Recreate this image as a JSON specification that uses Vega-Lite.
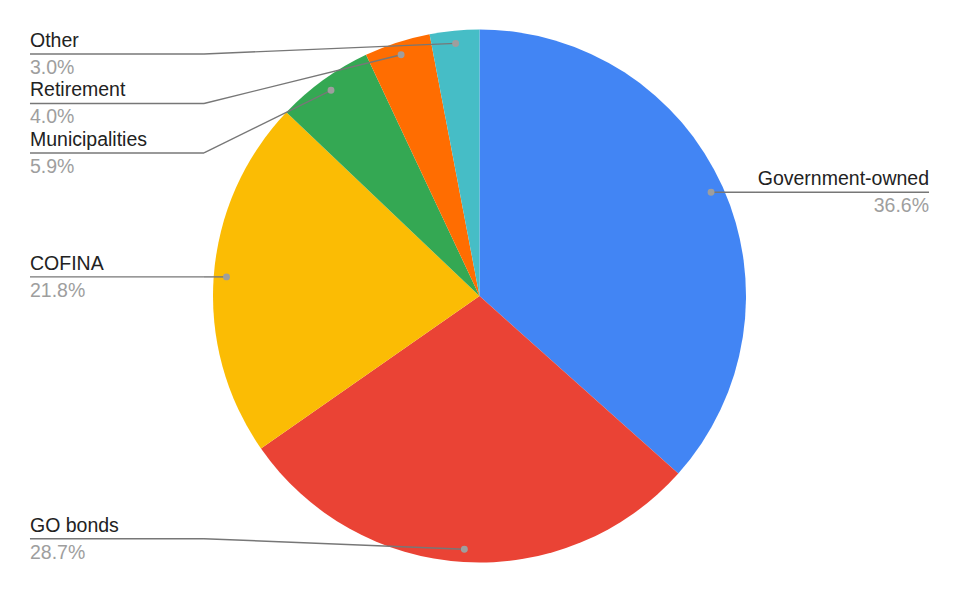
{
  "$schema": "https://vega.github.io/schema/vega-lite/v6.json",
  "width": 960,
  "height": 594,
  "autosize": {"type": "fit", "contains": "padding"},
  "padding": {"left": 0, "top": 0, "right": 1, "bottom": 2},
  "background": "white",
  "config": {"view": {"stroke": null}},
  "data": {
    "values": [
      {"idx": 0, "category": "Government-owned", "value": 36.6},
      {"idx": 1, "category": "GO bonds", "value": 28.7},
      {"idx": 2, "category": "COFINA", "value": 21.8},
      {"idx": 3, "category": "Municipalities", "value": 5.9},
      {"idx": 4, "category": "Retirement", "value": 4.0},
      {"idx": 5, "category": "Other", "value": 3.0}
    ]
  },
  "transform": [
    {"joinaggregate": [{"op": "sum", "field": "value", "as": "total"}]},
    {"window": [{"op": "sum", "field": "value", "as": "cum"}], "sort": [{"field": "idx", "order": "ascending"}], "frame": [null, 0]},
    {"calculate": "(datum.cum - datum.value / 2) / datum.total * 2 * PI", "as": "mid"},
    {"calculate": "0.952 * sin(datum.mid)", "as": "dx"},
    {"calculate": "0.952 * cos(datum.mid)", "as": "dy"},
    {"calculate": "sin(datum.mid) >= 0 ? 'right' : 'left'", "as": "side"},
    {"window": [{"op": "row_number", "as": "rank"}], "groupby": ["side"], "sort": [{"field": "dy", "order": "descending"}]},
    {"joinaggregate": [{"op": "count", "as": "n"}], "groupby": ["side"]},
    {"calculate": "max(min(datum.dy, 0.9081 - (datum.rank - 1) * 0.1857), -0.9107 + (datum.n - datum.rank) * 0.1857)", "as": "ly"},
    {"calculate": "datum.side == 'right' ? 1.0338 : -1.0338", "as": "ex"},
    {"calculate": "datum.side == 'right' ? 1.6867 : -1.6867", "as": "lx"},
    {"calculate": "format(datum.value, '.1f') + '%'", "as": "pct"}
  ],
  "layer": [
    {
      "mark": {"type": "arc", "outerRadius": 266.5},
      "encoding": {
        "theta": {"field": "value", "type": "quantitative", "stack": true},
        "order": {"field": "idx", "type": "quantitative"},
        "color": {
          "field": "category",
          "type": "nominal",
          "scale": {
            "domain": ["Government-owned", "GO bonds", "COFINA", "Municipalities", "Retirement", "Other"],
            "range": ["#4285F4", "#EA4335", "#FBBC04", "#34A853", "#FF6D01", "#46BDC6"]
          },
          "legend": null
        }
      }
    },
    {
      "mark": {"type": "rule", "color": "#777777", "strokeWidth": 1.4},
      "encoding": {
        "x": {"field": "dx", "type": "quantitative", "scale": {"domain": [-1.7992, 1.7992], "nice": false, "zero": false}, "axis": null},
        "y": {"field": "dy", "type": "quantitative", "scale": {"domain": [-1.1107, 1.1107], "nice": false, "zero": false}, "axis": null},
        "x2": {"field": "ex"},
        "y2": {"field": "ly"}
      }
    },
    {
      "mark": {"type": "rule", "color": "#777777", "strokeWidth": 1.4},
      "encoding": {
        "x": {"field": "ex", "type": "quantitative", "scale": {"domain": [-1.7992, 1.7992], "nice": false, "zero": false}, "axis": null},
        "y": {"field": "ly", "type": "quantitative", "scale": {"domain": [-1.1107, 1.1107], "nice": false, "zero": false}, "axis": null},
        "x2": {"field": "lx"},
        "y2": {"field": "ly"}
      }
    },
    {
      "mark": {"type": "point", "filled": true, "color": "#9e9e9e", "opacity": 1, "size": 48},
      "encoding": {
        "x": {"field": "dx", "type": "quantitative", "scale": {"domain": [-1.7992, 1.7992], "nice": false, "zero": false}, "axis": null},
        "y": {"field": "dy", "type": "quantitative", "scale": {"domain": [-1.1107, 1.1107], "nice": false, "zero": false}, "axis": null}
      }
    },
    {
      "transform": [{"filter": "datum.side == 'left'"}],
      "layer": [
        {
          "mark": {"type": "text", "align": "left", "baseline": "alphabetic", "dy": -7, "font": "Liberation Sans", "fontSize": 19.5, "color": "#222222"},
          "encoding": {
            "x": {"field": "lx", "type": "quantitative", "scale": {"domain": [-1.7992, 1.7992], "nice": false, "zero": false}, "axis": null},
            "y": {"field": "ly", "type": "quantitative", "scale": {"domain": [-1.1107, 1.1107], "nice": false, "zero": false}, "axis": null},
            "text": {"field": "category"}
          }
        },
        {
          "mark": {"type": "text", "align": "left", "baseline": "alphabetic", "dy": 20, "font": "Liberation Sans", "fontSize": 19.5, "color": "#9e9e9e"},
          "encoding": {
            "x": {"field": "lx", "type": "quantitative", "scale": {"domain": [-1.7992, 1.7992], "nice": false, "zero": false}, "axis": null},
            "y": {"field": "ly", "type": "quantitative", "scale": {"domain": [-1.1107, 1.1107], "nice": false, "zero": false}, "axis": null},
            "text": {"field": "pct"}
          }
        }
      ]
    },
    {
      "transform": [{"filter": "datum.side == 'right'"}],
      "layer": [
        {
          "mark": {"type": "text", "align": "right", "baseline": "alphabetic", "dy": -7, "font": "Liberation Sans", "fontSize": 19.5, "color": "#222222"},
          "encoding": {
            "x": {"field": "lx", "type": "quantitative", "scale": {"domain": [-1.7992, 1.7992], "nice": false, "zero": false}, "axis": null},
            "y": {"field": "ly", "type": "quantitative", "scale": {"domain": [-1.1107, 1.1107], "nice": false, "zero": false}, "axis": null},
            "text": {"field": "category"}
          }
        },
        {
          "mark": {"type": "text", "align": "right", "baseline": "alphabetic", "dy": 20, "font": "Liberation Sans", "fontSize": 19.5, "color": "#9e9e9e"},
          "encoding": {
            "x": {"field": "lx", "type": "quantitative", "scale": {"domain": [-1.7992, 1.7992], "nice": false, "zero": false}, "axis": null},
            "y": {"field": "ly", "type": "quantitative", "scale": {"domain": [-1.1107, 1.1107], "nice": false, "zero": false}, "axis": null},
            "text": {"field": "pct"}
          }
        }
      ]
    }
  ]
}
